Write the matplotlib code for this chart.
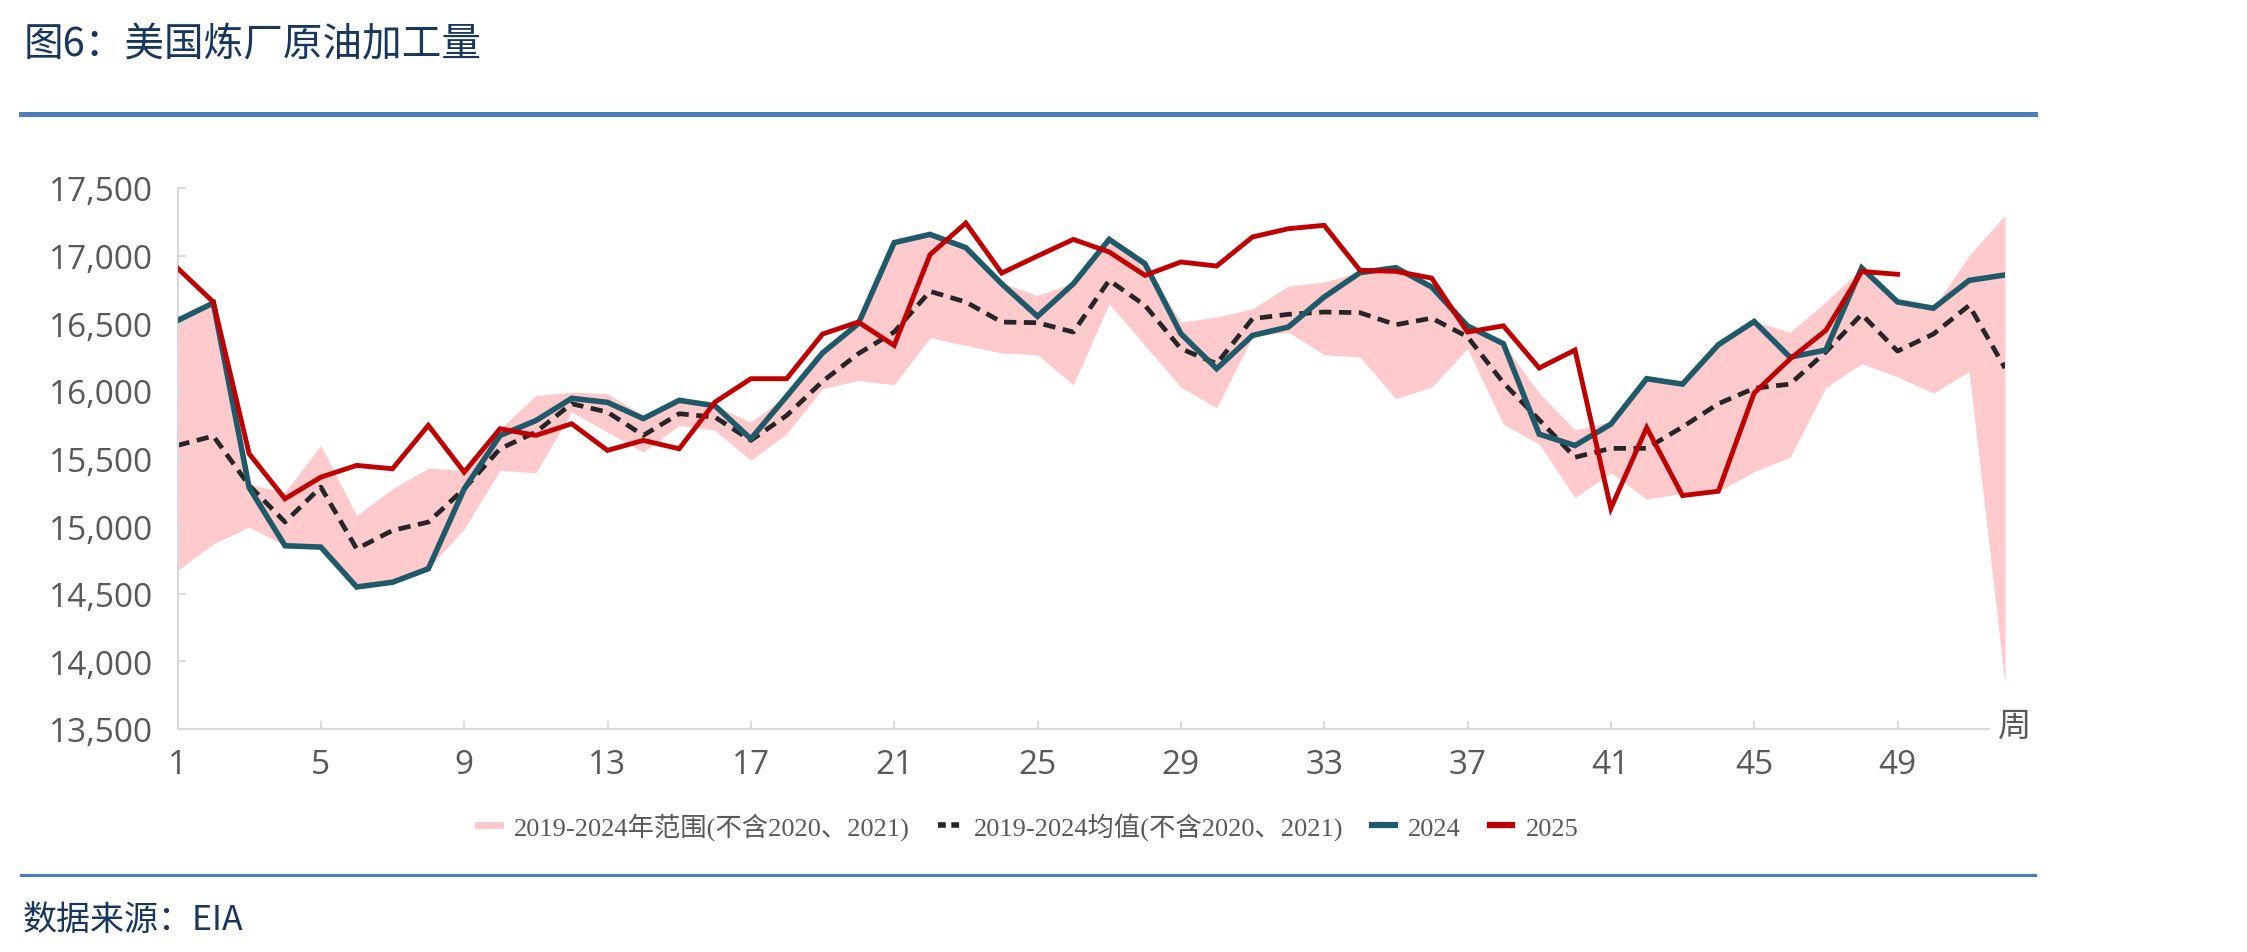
import matplotlib
matplotlib.use("Agg")
import matplotlib.pyplot as plt
from matplotlib.lines import Line2D
from matplotlib.font_manager import FontProperties
import numpy as np

plt.rcParams['font.family'] = ['Open Sans', 'Noto Sans CJK SC', 'DejaVu Sans']

# ---------------- data ----------------
weeks = list(range(1, 53))
weeks_2025 = list(range(1, 50))

range_low = [14672, 14869, 14993, 14855, 14845, 14550, 14585, 14685, 14980, 15412,
             15394, 15843, 15695, 15547, 15745, 15708, 15486, 15683, 16016, 16077,
             16045, 16393, 16336, 16280, 16267, 16045, 16644, 16336, 16028, 15873,
             16400, 16435, 16267, 16250, 15942, 16028, 16312, 15754, 15607, 15210,
             15395, 15199, 15244, 15258, 15402, 15509, 16024, 16201, 16103, 15984,
             16143, 13830]
range_high = [16520, 16657, 15310, 15250, 15597, 15079, 15276, 15429, 15412, 15720,
              15966, 15991, 15979, 15818, 15929, 15892, 15769, 15966, 16290, 16500,
              17100, 17160, 17060, 16800, 16706, 16800, 17120, 16940, 16509, 16546,
              16608, 16775, 16805, 16879, 16911, 16780, 16484, 16349, 15984, 15712,
              15773, 16090, 16050, 16341, 16513, 16434, 16658, 16909, 16658, 16611,
              17002, 17298]
mean_1924 = [15597, 15666, 15301, 15030, 15289, 14832, 14968, 15030, 15276, 15572,
             15695, 15905, 15843, 15671, 15831, 15806, 15634, 15818, 16070, 16275,
             16435, 16736, 16657, 16509, 16504, 16435, 16817, 16632, 16312, 16201,
             16534, 16566, 16583, 16578, 16489, 16538, 16400, 16060, 15786, 15509,
             15575, 15575, 15733, 15905, 16019, 16050, 16288, 16566, 16294, 16420,
             16632, 16169]
y2024 = [16520, 16650, 15285, 14855, 14845, 14550, 14585, 14685, 15275, 15670,
         15780, 15945, 15915, 15795, 15930, 15890, 15645, 15960, 16280, 16497,
         17096, 17157, 17059, 16792, 16551, 16792, 17120, 16940, 16423, 16164,
         16410, 16472, 16694, 16874, 16911, 16768, 16480, 16349, 15680, 15596,
         15754, 16090, 16050, 16341, 16513, 16249, 16302, 16909, 16658, 16611,
         16817, 16857]
y2025 = [16908, 16657, 15535, 15202, 15362, 15449, 15424, 15745, 15399, 15720,
         15671, 15757, 15560, 15634, 15572, 15917, 16090, 16090, 16420, 16509,
         16336, 17007, 17241, 16871, 16997, 17120, 17027, 16854, 16953, 16923,
         17138, 17199, 17224, 16891, 16884, 16834, 16435, 16481, 16169, 16302,
         15131, 15728, 15226, 15258, 15984, 16236, 16447, 16883, 16862]

xticks = list(range(1, 53, 4))
yticks = list(range(13500, 18000, 500))

labels = ['2019-2024年范围(不含2020、2021)', '2019-2024均值(不含2020、2021)', '2024', '2025']
title = '图6：美国炼厂原油加工量'
source = '数据来源：EIA'
x_unit = '周'

# ---------------- style ----------------
W, H = 2247, 953
c_band = '#FFCACC'
c_mean = '#262626'
c_2024 = '#1F5A6A'
c_2025 = '#C00000'
c_axis = '#D9D9D9'
c_text = '#595959'
c_navy = '#17375E'
c_rule = '#4A7EBB'

fig = plt.figure(figsize=(W / 100, H / 100), dpi=100)
ax_left, ax_right = 177.5, 2005
ax_top, ax_bottom = 189, 730
ax = fig.add_axes([ax_left / W, 1 - ax_bottom / H, (ax_right - ax_left) / W, (ax_bottom - ax_top) / H])

ax.fill_between(weeks, range_low, range_high, color=c_band, lw=0, zorder=1)
ax.plot(weeks, mean_1924, color=c_mean, lw=3.4, linestyle=(0, (2.6, 1.6)), zorder=2)
ax.plot(weeks, y2024, color=c_2024, lw=4, zorder=3, solid_joinstyle='miter')
ax.plot(weeks_2025, y2025, color=c_2025, lw=3.5, zorder=4, solid_joinstyle='miter')

ax.set_xlim(1, 52)
ax.set_ylim(13500, 17500)
ax.set_xticks(xticks)
ax.set_yticks(yticks)
ax.set_yticklabels([f'{v:,}' for v in yticks])

for s in ['top', 'right']:
    ax.spines[s].set_visible(False)
for s in ['left', 'bottom']:
    ax.spines[s].set_color(c_axis)
    ax.spines[s].set_linewidth(1.6)
ax.spines['bottom'].set_bounds(1, 51.55)

ax.tick_params(axis='both', direction='in', color=c_axis, width=1.4, length=6,
               labelcolor=c_text, labelsize=24)
ax.tick_params(axis='y', pad=17.5)
ax.tick_params(axis='x', pad=14)
ax.set_facecolor('none')

fig.text(2015 / W, 1 - 726 / H, x_unit, fontsize=24, color=c_text,
         ha='center', va='center', family=['Noto Sans CJK SC'])

# legend
handles = [
    Line2D([0], [0], color=c_band, lw=5),
    Line2D([0], [0], color=c_mean, lw=4, linestyle=(0, (1.4, 1.0))),
    Line2D([0], [0], color=c_2024, lw=4.5),
    Line2D([0], [0], color=c_2025, lw=4.5),
]
leg = fig.legend(handles, labels, loc='center', bbox_to_anchor=(1028 / W, 1 - 827 / H),
                 ncol=4, frameon=False, handlelength=0.85, handletextpad=0.5,
                 columnspacing=1.1,
                 prop=FontProperties(family=['Liberation Serif', 'Noto Sans CJK SC'], size=19))
for t in leg.get_texts():
    t.set_color(c_text)

# title, rules, source
fig.text(24 / W, 1 - 45 / H, title, fontsize=28.5, color=c_navy, ha='left', va='center',
         family=['Noto Sans CJK SC'])
fig.add_artist(Line2D([21 / W, 2035 / W], [1 - 115 / H, 1 - 115 / H], color=c_rule, lw=3.6,
                      transform=fig.transFigure))
fig.add_artist(Line2D([21 / W, 2035 / W], [1 - 876 / H, 1 - 876 / H], color=c_rule, lw=2.2,
                      transform=fig.transFigure))
fig.text(23 / W, 1 - 921 / H, source, fontsize=24.5, color=c_navy, ha='left', va='center',
         family=['Noto Sans CJK SC'])

fig.savefig('out.png', dpi=100)
